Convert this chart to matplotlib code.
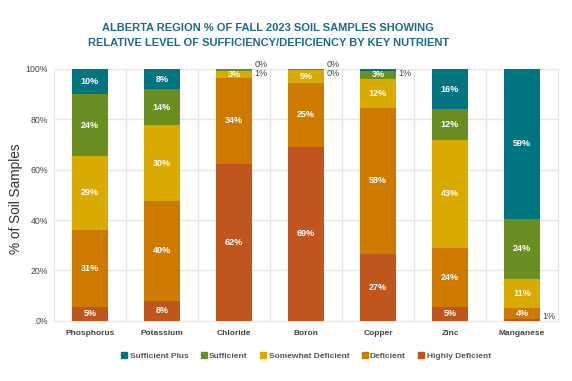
import numpy as np
import matplotlib.pyplot as plt
from matplotlib.patches import Patch

nutrients = ["Phosphorus", "Potassium", "Chloride", "Boron", "Copper", "Zinc", "Manganese"]
levels = ["Highly Deficient", "Deficient", "Somewhat Deficient", "Sufficient", "Sufficient Plus"]
colors = ["#c0561e", "#cc7a00", "#d9aa00", "#6a8e22", "#00747f"]

# % of samples, bottom to top
highly_def = [5.4, 7.9, 62.4, 69.2, 26.6, 5.4, 0.8]
deficient = [30.8, 39.6, 34.0, 25.3, 57.9, 23.6, 4.4]
somewhat_def = [29.4, 30.2, 2.8, 5.3, 11.7, 42.9, 11.2]
sufficient = [24.3, 14.2, 0.8, 0.1, 3.0, 12.2, 24.2]
sufficient_plus = [10.1, 8.1, 0.0, 0.1, 0.8, 15.9, 59.4]
series = [highly_def, deficient, somewhat_def, sufficient, sufficient_plus]

font = ["Liberation Sans", "DejaVu Sans"]
plt.rcParams["font.family"] = font

fig = plt.figure(figsize=(5.72, 3.81), dpi=100)
ax = fig.add_axes([54 / 572, 1 - 320.7 / 381, 504 / 572, 251.7 / 381])

x = np.arange(len(nutrients))
bottom = np.zeros(len(nutrients))
small = {i: [] for i in x}
for vals, col in zip(series, colors):
    vals = np.array(vals)
    ax.bar(x, vals, 0.5, bottom=bottom, color=col, zorder=3)
    for i, v in enumerate(vals):
        if round(v) >= 2:
            ax.text(i, bottom[i] + v / 2, "%d%%" % round(v), ha="center", va="center",
                    color="white", fontsize=6.5, fontweight="bold", zorder=4)
        else:
            y = min(max(bottom[i] + v / 2, 1.6), 98.3)
            while any(abs(y - p) < 2 for p in small[i]):
                y += 3.3
            small[i].append(y)
            ax.text(i + 0.28, y, "%d%%" % round(v), ha="left", va="center",
                    color="#444444", fontsize=6.5, clip_on=False)
    bottom += vals

ax.set_xlim(-0.5, len(nutrients) - 0.5)
ax.set_ylim(0, 100)
ax.set_yticks(np.arange(0, 101, 20))
ax.set_yticklabels(["%d%%" % t for t in range(0, 101, 20)], fontsize=6.3, color="#444444")
ax.set_xticks(x)
ax.set_xticklabels(nutrients, fontsize=6.0, fontweight="bold", color="#444444")
ax.set_xticks(np.arange(0.5, len(nutrients) - 0.5), minor=True)
ax.tick_params(axis="both", which="both", length=0)
ax.tick_params(axis="y", pad=4.5)
ax.tick_params(axis="x", pad=7)
ax.grid(True, axis="y", color="#e6e6e6", lw=1, zorder=0)
ax.grid(True, axis="x", which="minor", color="#e6e6e6", lw=1, zorder=0)
for s in ax.spines.values():
    s.set_color("#e6e6e6")
ax.set_ylabel("% of Soil Samples", fontsize=9.8, color="#333333")
ax.yaxis.set_label_coords(-0.062, 0.484)

title_font = ["Liberation Sans Narrow", "Liberation Sans"]
fig.text(0.469, 1 - 28 / 381, "ALBERTA REGION % OF FALL 2023 SOIL SAMPLES SHOWING",
         ha="center", va="center", fontsize=8.0, fontweight="bold", color="#1c6a8a",
         family=title_font)
fig.text(0.469, 1 - 43 / 381, "RELATIVE LEVEL OF SUFFICIENCY/DEFICIENCY BY KEY NUTRIENT",
         ha="center", va="center", fontsize=8.0, fontweight="bold", color="#1c6a8a",
         family=title_font)

handles = [Patch(color=c, label=l) for c, l in zip(colors[::-1], levels[::-1])]
fig.legend(handles=handles, loc="center", bbox_to_anchor=(306 / 572, 1 - 356 / 381), ncol=5,
           frameon=False, handlelength=0.7, handleheight=0.7, handletextpad=0.3,
           columnspacing=1.5, prop={"size": 6.0, "weight": "bold"}, labelcolor="#555555")

fig.savefig("out.png", dpi=100)
